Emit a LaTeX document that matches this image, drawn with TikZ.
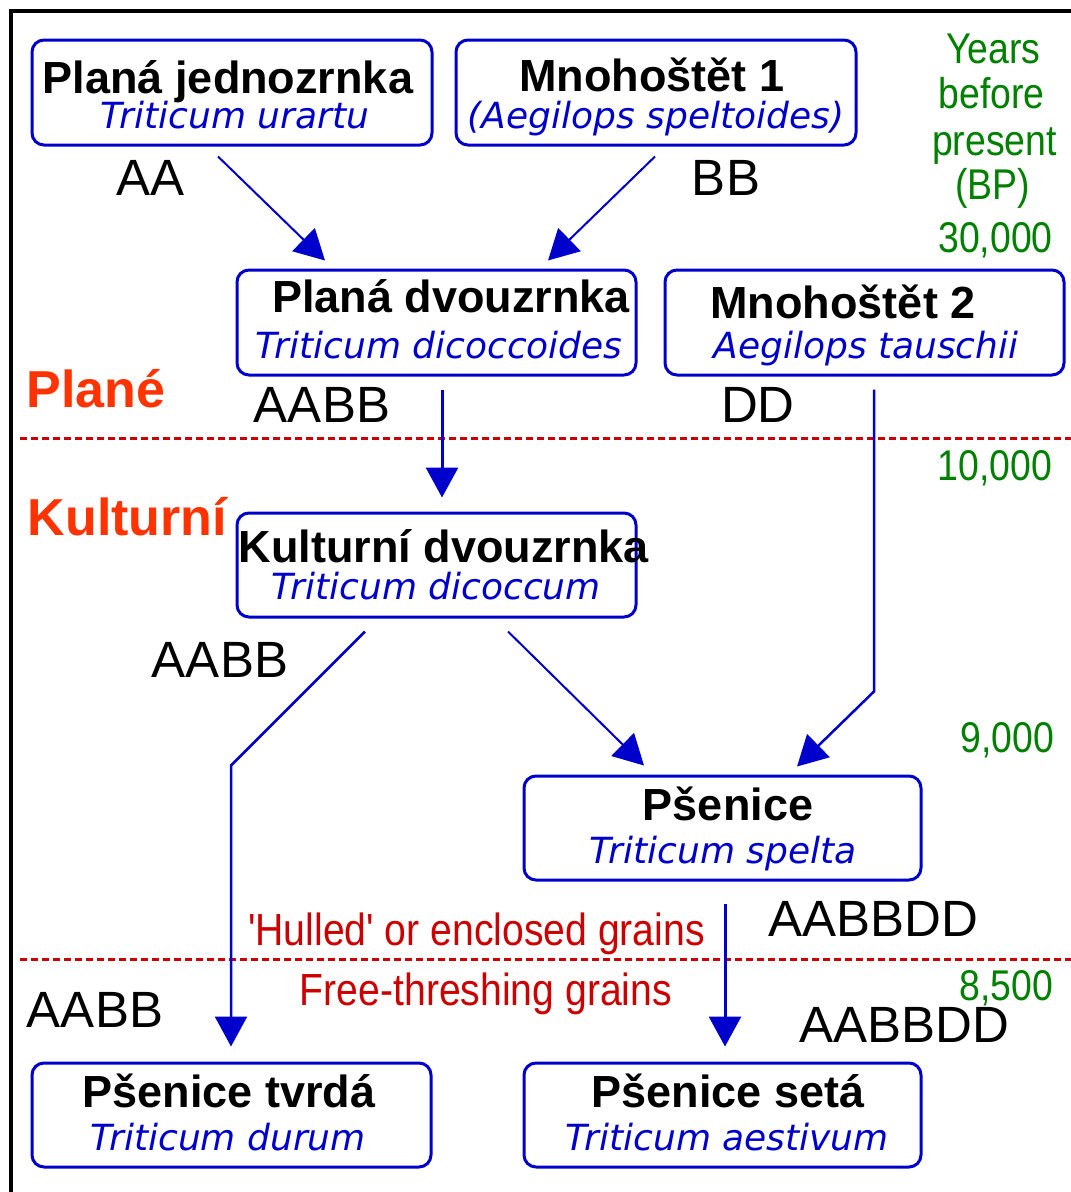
\documentclass[tikz,border=0pt]{standalone}
\usepackage{fontspec}
\setmainfont{Liberation Sans}
\newfontfamily\pixfont{DejaVu Sans}
\newfontfamily\narrowfont[FakeStretch=0.87]{Liberation Sans}
\usetikzlibrary{arrows.meta,calc}
\definecolor{boxblue}{HTML}{0000CC}
\definecolor{darkred}{HTML}{CC0000}
\definecolor{byGreen}{HTML}{008000}
\definecolor{orangered}{HTML}{FF3300}
\tikzset{
  box/.style={draw=boxblue, line width=3pt, rounded corners=12pt, rectangle, inner sep=0pt, minimum height=105pt},
  title/.style={anchor=base, inner sep=0pt, font=\fontsize{45}{50}\selectfont\bfseries},
  latin/.style={anchor=base, inner sep=0pt, text=boxblue, font=\fontsize{36}{40}\selectfont\pixfont\itshape},
  genome/.style={anchor=base, inner sep=0pt, font=\fontsize{51}{56}\selectfont},
  era/.style={anchor=base, inner sep=0pt, text=orangered, font=\fontsize{52}{58}\selectfont\bfseries},
  years/.style={anchor=base, inner sep=0pt, text=byGreen, font=\fontsize{43}{48}\selectfont\narrowfont},
  grain/.style={anchor=base, inner sep=0pt, text=darkred, font=\fontsize{45}{50}\selectfont\narrowfont},
  arr/.style={draw=boxblue, line width=2.5pt, -{Triangle[width=32pt,length=30pt]}},
  sep/.style={draw=darkred, line width=3pt, dash pattern=on 7pt off 4pt}
}
\begin{document}
\begin{tikzpicture}[x=1pt,y=-1pt]
\useasboundingbox (0,0) rectangle (1071,1192);
\fill[white] (0,0) rectangle (1071,1192);
\draw[line width=4pt] (11,1192) -- (11,11) -- (1071,11);

% boxes
\node[box, minimum width=400pt] (b1) at (232,92.5) {};
\node[box, minimum width=400pt] (b2) at (656,92.5) {};
\node[box, minimum width=399pt] (b3) at (436.5,322.5) {};
\node[box, minimum width=399pt] (b4) at (864.5,322.5) {};
\node[box, minimum width=399pt, minimum height=104pt] (b5) at (436.5,565) {};
\node[box, minimum width=397pt, minimum height=104pt] (b6) at (722.5,828) {};
\node[box, minimum width=399pt, minimum height=104pt] (b7) at (231.5,1115) {};
\node[box, minimum width=397pt, minimum height=104pt] (b8) at (722.5,1115) {};

% box texts
\node[title] (t1) at (228,93) {Planá jednozrnka};
\node[latin] (l1) at (235,128) {Triticum urartu};
\node[title] (t2) at (652,91) {Mnohoštět 1};
\node[latin] (l2) at (656,128) {(Aegilops speltoides)};
\node[title] (t3) at (451,312) {Planá dvouzrnka};
\node[latin] (l3) at (439,358) {Triticum dicoccoides};
\node[title] (t4) at (843,318) {Mnohoštět 2};
\node[latin] (l4) at (866,358) {Aegilops tauschii};
\node[title] (t5) at (444,562) {Kulturní dvouzrnka};
\node[latin] (l5) at (436,599) {Triticum dicoccum};
\node[title] (t6) at (728,820) {Pšenice};
\node[latin] (l6) at (723,863) {Triticum spelta};
\node[title] (t7) at (229,1107) {Pšenice tvrdá};
\node[latin] (l7) at (228,1150) {Triticum durum};
\node[title] (t8) at (728,1107) {Pšenice setá};
\node[latin] (l8) at (727,1150) {Triticum aestivum};

% genome labels
\node[genome] (gAA) at (150.5,195) {AA};
\node[genome] (gBB) at (726,195) {BB};
\node[genome] (gAABB1) at (322,422) {AABB};
\node[genome] (gDD) at (758,422) {DD};
\node[genome] (gAABB2) at (220,677) {AABB};
\node[genome] (gAABBDD1) at (873.5,936) {AABBDD};
\node[genome] (gAABB3) at (95,1027) {AABB};
\node[genome] (gAABBDD2) at (904.5,1042) {AABBDD};

% eras
\node[era] (plane) at (96,407) {Plané};
\node[era] (kult) at (127.5,535) {Kulturní};

% years
\node[years] (y1) at (993.5,63) {Years};
\node[years] (y2) at (991.5,108) {before};
\node[years] (y3) at (994.5,155) {present};
\node[years] (y4) at (992.5,199) {(BP)};
\node[years] (y5) at (995.5,252) {30,000};
\node[years] (y6) at (995,480) {10,000};
\node[years] (y7) at (1007,752) {9,000};
\node[years] (y8) at (1006.5,1000) {8,500};

% grain labels
\node[grain] (hull) at (476.5,945) {'Hulled' or enclosed grains};
\node[grain] (free) at (486,1005) {Free-threshing grains};

% separators
\draw[sep] (20,438) -- (1071,438);
\draw[sep] (20,959) -- (1071,959);

% arrows
\draw[arr, line width=2pt] ($(b1.south)+(-14,10)$) -- ($(b3.north)+(-111.5,-8)$);
\draw[arr, line width=2pt] ($(b2.south)+(-1,10)$) -- ($(b3.north)+(111.5,-8)$);
\draw[arr, line width=3pt] ($(b3.south)+(5.5,13)$) -- ($(b5.north)+(5.5,-14)$);
\draw[arr] ($(b4.south)+(9.5,13)$) -- ($(b4.south)+(9.5,315)$) -- ($(b6.north)+(74.5,-8)$);
\draw[arr, line width=2pt] ($(b5.south)+(71.5,13)$) -- ($(b6.north)+(-78.5,-9)$);
\draw[arr] ($(b5.south)+(-71.5,13)$) -- ($(b5.south)+(-205.5,147)$) -- ($(b7.north)+(-0.5,-15)$);
\draw[arr, line width=3pt] ($(b6.south)+(2.5,22)$) -- ($(b8.north)+(2.5,-15)$);
\end{tikzpicture}
\end{document}
